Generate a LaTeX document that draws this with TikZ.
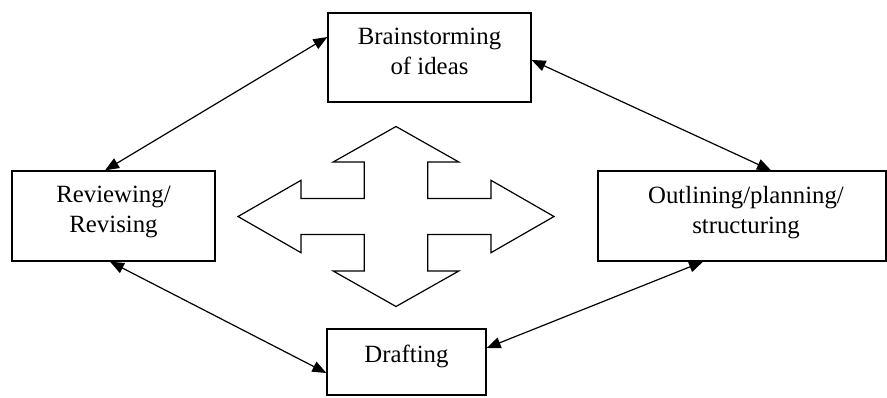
\documentclass[tikz,border=0pt]{standalone}
\usepackage{fontspec}
\setmainfont{Liberation Serif}
\usetikzlibrary{arrows.meta}
\begin{document}
\begin{tikzpicture}[x=1pt,y=-1pt,
  box/.style={draw, line width=1.3pt, inner sep=0pt},
  txt/.style={anchor=north, inner sep=0pt, align=center,
              font=\fontsize{24.8}{29.5}\selectfont},
  link/.style={line width=1.2pt,
               {Triangle[length=14pt,width=11pt]}-{Triangle[length=14pt,width=11pt]}},
  cross/.style={draw, line width=1.2pt, line join=miter}]
\useasboundingbox (0,0) rectangle (887,397);

% stage boxes
\node[box, minimum width=203pt, minimum height=89pt] (brain)   at (429.5,57.5) {};
\node[box, minimum width=203pt, minimum height=90pt] (review)  at (113.5,216)  {};
\node[box, minimum width=288pt, minimum height=90pt] (outline) at (742,216)    {};
\node[box, minimum width=159pt, minimum height=66pt] (draft)   at (406.5,362)  {};

% stage captions, hung from the top edge of each box
\node[txt] (brainT)   at ([yshift=-16pt]brain.north)              {Brainstorming\\of ideas};
\node[txt] (reviewT)  at ([yshift=-16pt]review.north)             {Reviewing/\\Revising};
\node[txt] (outlineT) at ([xshift=4pt,yshift=-16pt]outline.north) {Outlining/planning/\\structuring};
\node[txt] (draftT)   at ([yshift=-16pt]draft.north)              {Drafting};

% two-way links around the cycle
\draw[link] ([xshift=-8.5pt]review.north) -- ([yshift=20.5pt]brain.west);
\draw[link] ([yshift=-2.5pt]brain.east)   -- ([xshift=29pt]outline.north);
\draw[link] ([xshift=-3.5pt]review.south) -- ([yshift=-11pt]draft.west);
\draw[link] ([xshift=-39pt]outline.south) -- ([yshift=14pt]draft.east);

% four-way arrow in the middle
\coordinate (hub) at (396,216.5);
\begin{scope}[shift={(hub)}]
  \path[cross]
    (0,-90) -- (62.8,-54.5) -- (31.7,-54.5) -- (31.7,-18) -- (95,-18) -- (95,-36.2)
    -- (158,0) -- (95,36.2) -- (95,18) -- (31.7,18) -- (31.7,54.5) -- (62.8,54.5)
    -- (0,90) -- (-62.8,54.5) -- (-31.7,54.5) -- (-31.7,18) -- (-95,18) -- (-95,36.2)
    -- (-158,0) -- (-95,-36.2) -- (-95,-18) -- (-31.7,-18) -- (-31.7,-54.5)
    -- (-62.8,-54.5) -- cycle;
\end{scope}
\end{tikzpicture}
\end{document}
